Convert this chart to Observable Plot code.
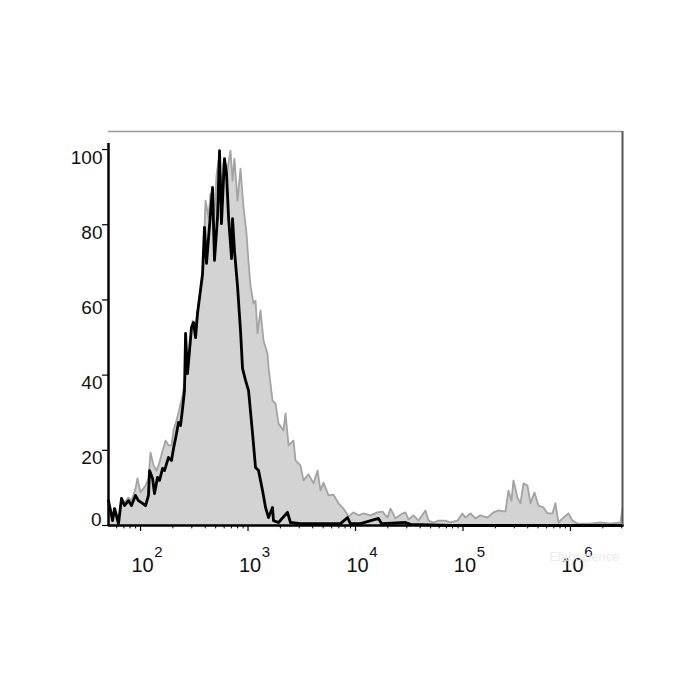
<!DOCTYPE html>
<html><head><meta charset="utf-8">
<script src="https://cdn.jsdelivr.net/npm/d3@7"></script>
<script src="https://cdn.jsdelivr.net/npm/@observablehq/plot@0.6"></script>
<style>body{margin:0;background:#fff} svg{display:block}</style>
</head><body><div id="chart"></div>
<script>
// Stained sample (gray filled histogram): log10 intensity and % of max
const stainedLog10 = [1.702,1.740,1.767,1.795,1.823,1.851,1.888,1.916,1.953,1.972,2.000,2.047,2.074,2.093,2.121,2.149,2.177,2.205,2.233,2.260,2.288,2.307,2.335,2.363,2.391,2.419,2.447,2.484,2.512,2.549,2.577,2.605,2.633,2.651,2.679,2.707,2.726,2.753,2.772,2.800,2.837,2.856,2.874,2.902,2.930,2.958,2.986,3.005,3.023,3.051,3.070,3.088,3.116,3.144,3.181,3.191,3.228,3.256,3.284,3.330,3.349,3.377,3.423,3.442,3.488,3.516,3.563,3.609,3.647,3.674,3.702,3.749,3.795,3.842,3.888,3.935,3.981,4.028,4.074,4.140,4.205,4.251,4.298,4.326,4.372,4.437,4.465,4.493,4.540,4.586,4.651,4.679,4.726,4.772,4.837,4.884,4.949,4.995,5.023,5.070,5.116,5.163,5.228,5.284,5.330,5.395,5.423,5.451,5.470,5.507,5.535,5.563,5.600,5.628,5.665,5.702,5.749,5.786,5.833,5.860,5.888,5.935,5.981,6.019,6.065,6.186,6.279,6.372,6.465,6.484];
const stainedCount = [5.3,1.9,4.5,1.3,7.2,6.1,7.4,6.6,9.8,12.5,8.8,10.6,12.5,19.4,16.0,14.6,16.8,19.9,22.6,21.3,21.3,25.3,27.9,31.1,34.6,39.9,42.6,54.5,53.2,60.6,65.2,86.4,81.9,88.3,78.5,93.1,97.1,90.4,96.3,93.1,99.7,91.8,97.6,86.4,94.9,84.6,77.7,69.9,63.8,59.0,59.8,51.1,57.2,49.2,45.7,42.0,33.2,32.4,27.1,25.3,29.8,21.3,22.6,17.3,16.0,12.0,13.6,11.2,14.6,9.3,11.4,8.0,8.2,5.9,4.5,2.4,3.5,2.7,3.2,2.7,3.5,3.7,2.1,4.5,1.9,3.2,3.5,1.6,2.7,1.3,4.0,1.3,0.8,1.3,1.3,0.8,1.3,3.2,2.1,3.2,1.9,2.7,2.1,3.5,4.0,3.7,9.3,6.6,12.0,7.4,5.9,11.2,10.6,5.9,8.8,5.3,4.8,3.2,3.2,5.9,0.8,2.1,3.2,1.3,0.5,0.5,0.8,0.5,0.8,4.5];

// Isotype control (black line)
const controlLog10 = [1.702,1.740,1.758,1.795,1.823,1.851,1.888,1.916,1.953,1.981,2.019,2.047,2.074,2.084,2.112,2.130,2.158,2.177,2.205,2.223,2.260,2.288,2.307,2.335,2.353,2.372,2.391,2.409,2.419,2.437,2.474,2.493,2.512,2.530,2.549,2.577,2.595,2.614,2.633,2.670,2.688,2.716,2.735,2.753,2.781,2.800,2.819,2.847,2.856,2.874,2.902,2.930,2.949,2.977,3.005,3.042,3.070,3.098,3.135,3.163,3.191,3.228,3.237,3.284,3.367,3.395,3.488,3.674,3.860,3.926,3.953,4.047,4.214,4.242,4.465,4.512,4.884,5.349,5.907,6.484];
const controlCount = [6.6,1.3,4.5,0.5,7.2,5.3,6.6,5.3,8.0,6.6,5.9,5.3,8.0,14.6,12.5,8.5,12.8,12.0,15.2,14.6,18.1,17.3,20.5,24.5,27.4,26.6,31.1,35.9,51.1,40.4,52.7,54.0,50.0,56.4,60.6,67.0,79.3,69.7,76.6,89.9,70.5,81.9,99.7,80.3,97.6,93.6,81.9,71.0,81.6,73.1,63.8,51.9,41.8,38.6,35.9,24.5,15.4,14.6,9.3,4.8,2.1,4.8,1.3,0.8,3.5,0.8,0.5,0.5,0.5,2.1,0.5,0.5,1.9,0.5,0.8,0.3,0,0,0,0];

const yTicks = [0, 20, 40, 60, 80, 100];
const decadeExponents = [2, 3, 4, 5, 6];
const minorMultipliers = [2, 3, 4, 5, 6, 7, 8, 9];
const xDomainLog10 = [1.702, 6.484];
const yMax = 104.8;

const stained = stainedLog10.map((e, i) => ({x: 10 ** e, y: stainedCount[i]}));
const control = controlLog10.map((e, i) => ({x: 10 ** e, y: controlCount[i]}));
const xMin = 10 ** xDomainLog10[0], xMax = 10 ** xDomainLog10[1];
const yTickLeft = 10 ** (xDomainLog10[0] - 0.056);
const majors = decadeExponents.map(e => 10 ** e);
const minors = [1, 2, 3, 4, 5, 6].flatMap(e => minorMultipliers.map(m => m * 10 ** e)).filter(v => v >= xMin && v <= xMax);

const font = "'Liberation Sans', Arial, sans-serif";

const chart = Plot.plot({
  width: 700, height: 700,
  marginLeft: 108, marginRight: 78, marginTop: 131, marginBottom: 175,
  style: {fontFamily: font, background: "#fff", overflow: "visible"},
  x: {type: "log", domain: [xMin, xMax], axis: null},
  y: {domain: [0, yMax], axis: null},
  marks: [
    Plot.areaY(stained, {x: "x", y: "y", fill: "#d3d3d3"}),
    Plot.lineY(stained, {x: "x", y: "y", stroke: "#a3a3a3", strokeWidth: 1.8}),
    Plot.lineY(control, {x: "x", y: "y", stroke: "#000", strokeWidth: 2.8}),
    // frame
    Plot.ruleY([yMax], {x1: xMin, x2: xMax, stroke: "#9a9a9a", strokeWidth: 1.5}),
    Plot.ruleX([xMax], {y1: 0, y2: yMax, stroke: "#555", strokeWidth: 2}),
    Plot.ruleX([xMin], {y1: 0, y2: 101.6, stroke: "#000", strokeWidth: 2.5}),
    Plot.ruleY([0], {x1: xMin, x2: xMax, stroke: "#000", strokeWidth: 2.5}),
    // y ticks and labels
    Plot.ruleY(yTicks, {y: d => d, x1: yTickLeft, x2: xMin, stroke: "#000", strokeWidth: 1.2}),
    Plot.text(yTicks.filter(v => v > 0), {x: xMin, y: d => d, text: d => String(d), textAnchor: "end", dx: -6, dy: 8, fontSize: 19, fill: "#111"}),
    Plot.text(yTicks.filter(v => v === 0), {x: xMin, y: d => d, text: d => String(d), textAnchor: "end", dx: -7, dy: -6, fontSize: 19, fill: "#111"}),
    // x ticks
    Plot.ruleX(majors, {x: d => d, y1: 0, y2: -1.6, stroke: "#000", strokeWidth: 1.2}),
    Plot.ruleX(minors, {x: d => d, y1: 0, y2: -0.9, stroke: "#000", strokeWidth: 1}),
    // x labels 10^n
    Plot.text(decadeExponents, {x: e => 10 ** e, y: 0, text: () => "10", dx: 2, dy: 40, fontSize: 20, fill: "#111"}),
    Plot.text(decadeExponents, {x: e => 10 ** e, y: 0, text: e => String(e), dx: 18, dy: 27, fontSize: 15, fill: "#111"}),
    // watermark (faint, as in the reference)
    Plot.text(["Elabscience"], {frameAnchor: "bottom-right", text: d => d, textAnchor: "end", dx: -3, dy: 35, fontSize: 13, fill: "#ececec"})
  ]
});
document.getElementById("chart").appendChild(chart);
</script>
</body></html>
